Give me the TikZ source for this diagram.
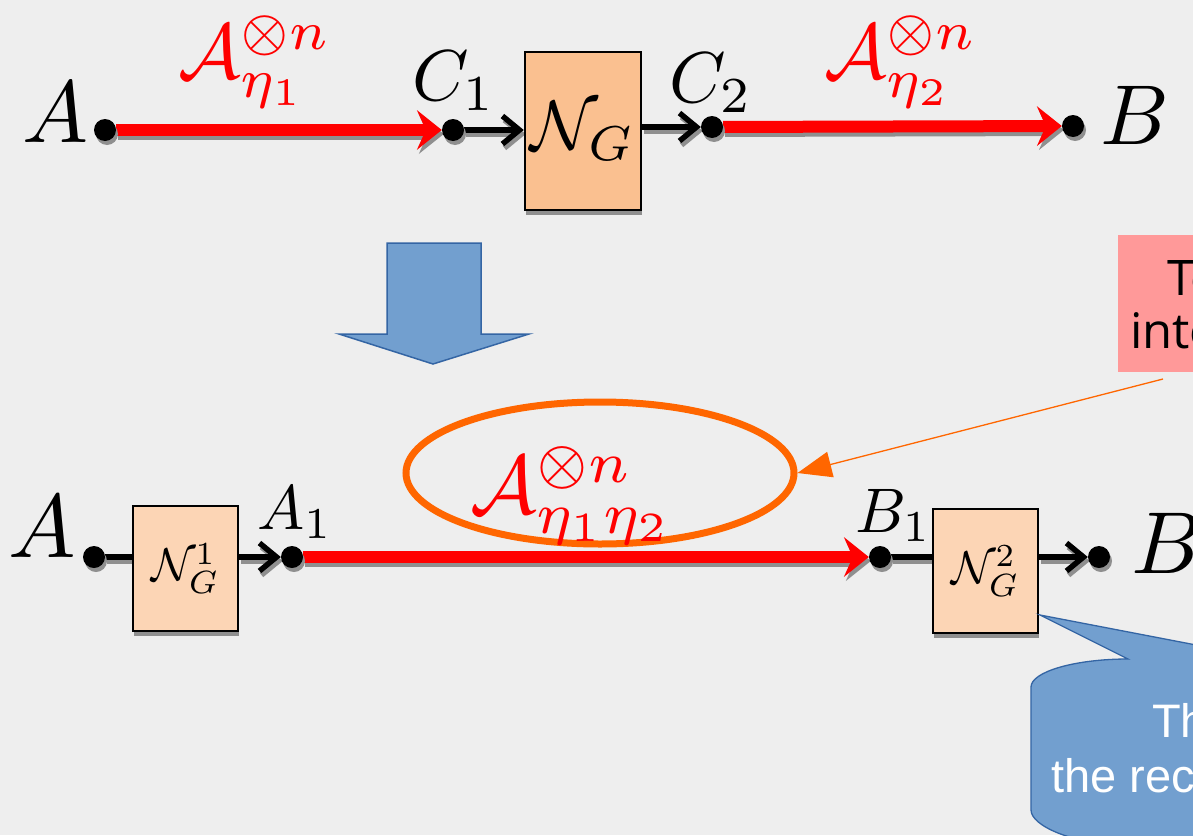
\documentclass[tikz,border=0pt]{standalone}
\usepackage{graphicx}
\usepackage{fontspec}
\newfontfamily\lsans{Liberation Sans}
\newfontfamily\osans{Open Sans}
\usetikzlibrary{arrows.meta,shadows,shapes.geometric}
\definecolor{bgc}{HTML}{EEEEEE}
\definecolor{peachA}{HTML}{FAC090}
\definecolor{peachB}{HTML}{FCD5B5}
\definecolor{shgray}{HTML}{8F8F8F}
\definecolor{oran}{HTML}{FF6600}
\definecolor{blueF}{HTML}{729FCF}
\definecolor{blueD}{HTML}{3465A4}
\definecolor{pinkF}{HTML}{FF9999}
\newcommand\fsz[1]{\fontsize{#1}{#1}\selectfont}
\newcommand\mth[2]{\scalebox{#1}{$#2$}}
\pgfdeclarelayer{bglayer}
\pgfdeclarelayer{linelayer}
\pgfsetlayers{bglayer,linelayer,main}
\tikzset{
  dotn/.style={circle,fill=black,inner sep=0pt,minimum size=22pt,
    drop shadow={shadow xshift=2pt,shadow yshift=-4pt,fill=shgray,opacity=1}},
  fbox/.style={draw=black,line width=2.5pt,rectangle,inner sep=0pt,
    drop shadow={shadow xshift=1pt,shadow yshift=-5pt,fill=shgray,opacity=1}},
  redc/.style={draw=red,line width=12pt,
    -{Stealth[length=25pt,width=40pt,inset=9pt,line width=0pt]}},
  blk/.style={draw=black,line width=5.5pt},
  blkarr/.style={blk,-{Straight Barb[length=17pt,width=28pt]}},
  sh/.style={draw=shgray,transform canvas={xshift=2pt,yshift=-4pt}},
  lab/.style={inner sep=0pt,anchor=base west},
  clab/.style={inner sep=0pt,anchor=base},
}
\begin{document}
\begin{tikzpicture}[x=1pt,y=-1pt]
\useasboundingbox (0,0) rectangle (1193,835);
\begin{pgfonlayer}{bglayer}
  \fill[bgc] (0,0) rectangle (1193,835);
\end{pgfonlayer}
\clip (0,0) rectangle (1193,835);

% ---------- top row ----------
\node[dotn] (Atop) at (105,130) {};
\node[dotn] (C1) at (453,130) {};
\node[dotn] (C2) at (712,127) {};
\node[dotn] (Btop) at (1073,126) {};
\node[fbox,fill=peachA,minimum width=116pt,minimum height=158pt] (NG) at (583,131)
  {\mth{7}{\mathcal{N}_G}};

\node[clab] (lAtop) at (55,142) {\mth{8.8}{A}};
\node[clab] (lBtop) at (1135,144) {\mth{8.5}{B}};
\node[lab] (lC1) at (412,100) {\mth{7.2}{C_1}};
\node[lab] (lC2) at (669,102) {\mth{7.2}{C_2}};
\node[lab,text=red] (eta1) at (178,78) {\mth{7.8}{\mathcal{A}_{\eta_1}^{\otimes n}}};
\node[lab,text=red] (eta2) at (824,78) {\mth{7.8}{\mathcal{A}_{\eta_2}^{\otimes n}}};

% ---------- bottom row ----------
\node[dotn] (Abot) at (94,557) {};
\node[dotn] (A1) at (292,557) {};
\node[dotn] (B1) at (880,557) {};
\node[dotn] (Bbot) at (1099,557) {};
\node[fbox,fill=peachB,minimum width=105pt,minimum height=125pt] (NG1) at (185.5,568.5)
  {\mth{4.6}{\mathcal{N}_G^1}};
\node[fbox,fill=peachB,minimum width=105pt,minimum height=124pt] (NG2) at (985.5,571)
  {\mth{4.6}{\mathcal{N}_G^2}};

\node[clab] (lAbot) at (42,557) {\mth{9}{A}};
\node[lab] (lBbot) at (1131,573) {\mth{8.8}{B}};
\node[lab] (lA1) at (257,529) {\mth{6.3}{A_1}};
\node[lab] (lB1) at (855,532) {\mth{6.3}{B_1}};

\node[ellipse,draw=oran,line width=7pt,minimum width=388pt,minimum height=142pt,inner sep=0pt]
  (ell) at (600,473) {};
\node[lab,text=red] (eta12) at (470,513) {\mth{8.3}{\mathcal{A}_{\eta_1\eta_2}^{\otimes n}}};

% ---------- connectors ----------
\begin{pgfonlayer}{linelayer}
  \draw[redc,sh] (Atop) -- (C1);
  \draw[redc] (Atop) -- (C1);
  \draw[blkarr,sh] (C1) -- (NG.west |- C1);
  \draw[blkarr] (C1) -- (NG.west |- C1);
  \draw[blkarr,sh] (NG.east |- C2) -- (C2);
  \draw[blkarr] (NG.east |- C2) -- (C2);
  \draw[redc,sh] (C2) -- (Btop);
  \draw[redc] (C2) -- (Btop);

  \draw[blk,sh] (Abot) -- (NG1.west |- Abot);
  \draw[blk] (Abot) -- (NG1.west |- Abot);
  \draw[blkarr,sh] (NG1.east |- A1) -- (A1);
  \draw[blkarr] (NG1.east |- A1) -- (A1);
  \draw[redc,sh] (A1) -- (B1);
  \draw[redc] (A1) -- (B1);
  \draw[blk,sh] (B1) -- (NG2.west |- B1);
  \draw[blk] (B1) -- (NG2.west |- B1);
  \draw[blkarr,sh] (NG2.east |- Bbot) -- (Bbot);
  \draw[blkarr] (NG2.east |- Bbot) -- (Bbot);
\end{pgfonlayer}

% ---------- big down arrow ----------
\draw[fill=blueF,draw=blueD,line width=1.5pt,line join=miter]
  (387,243) -- (481,243) -- (481,334) -- (529,334) -- (433,364) -- (339,334) -- (387,334) -- cycle;

% ---------- pink note ----------
\node[fill=pinkF,inner sep=0pt,minimum width=200pt,minimum height=137pt,anchor=north west]
  (note) at (1118,235) {};
\node[lab] (noteT1) at (1167,295) {\osans\fsz{49}To};
\node[lab] (noteT2) at (1130,348) {\osans\fsz{49}into};
\coordinate (ostart) at (1163,379);
\draw[draw=oran,line width=1.3pt,-{Triangle[length=34pt,width=26pt]}] (ostart) -- (ell.east);

% ---------- blue callout ----------
\draw[fill=blueF,draw=blueD,line width=1.3pt]
  (1031,687) .. controls (1031,672) and (1074,659) .. (1128,659)
  -- (1040,615) -- (1269,659) -- (1400,659) -- (1400,845) -- (1128,845)
  .. controls (1074,845) and (1031,826) .. (1031,810) -- cycle;
\node[lab,text=white] (callT1) at (1152,737) {\lsans\fsz{47}Th};
\node[lab,text=white] (callT2) at (1051,792) {\lsans\fsz{47}the rec};
\end{tikzpicture}
\end{document}
